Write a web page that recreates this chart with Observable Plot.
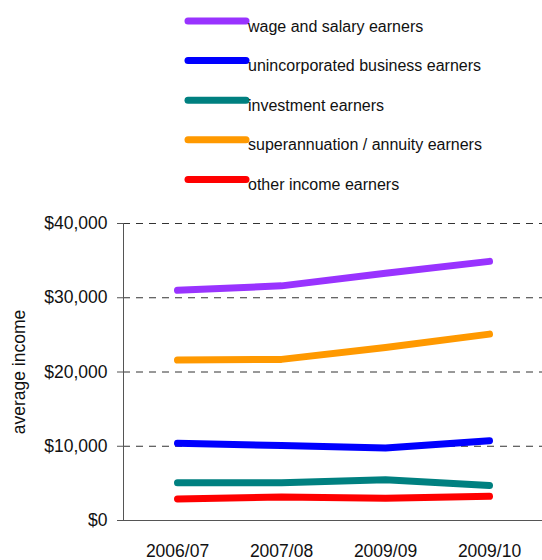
<!DOCTYPE html>
<html><head><meta charset="utf-8">
<script src="https://cdn.jsdelivr.net/npm/d3@7"></script>
<script src="https://cdn.jsdelivr.net/npm/@observablehq/plot@0.6"></script>
<style>
body{margin:0;background:#fff;font-family:"Liberation Sans",Arial,sans-serif;}
#root svg{display:block}
</style>
</head><body><div id="root"></div><script>
const years = ["2006/07", "2007/08", "2009/09", "2009/10"];
const seriesNames = ["wage and salary earners", "unincorporated business earners", "investment earners", "superannuation / annuity earners", "other income earners"];
const colors = ["#9933ff", "#0000ff", "#008080", "#ff9900", "#ff0000"];
const wage = [31000, 31600, 33300, 34900];
const business = [10400, 10100, 9750, 10750];
const investment = [5100, 5100, 5500, 4700];
const superannuation = [21600, 21700, 23300, 25100];
const other = [2900, 3150, 3000, 3250];
const yTicks = [0, 10000, 20000, 30000, 40000];

const seriesValues = [wage, business, investment, superannuation, other];
const data = [];
seriesNames.forEach((name, i) => years.forEach((yr, j) => data.push({series: name, year: yr, value: seriesValues[i][j]})));

const root = document.getElementById("root");

// Legend
const leg = d3.select(root).append("svg").attr("width", 542).attr("height", 200)
  .style("font-family", '"Liberation Sans",Arial,sans-serif');
seriesNames.forEach((name, i) => {
  const y = 21 + i * 39.6;
  leg.append("line").attr("x1", 188).attr("x2", 246).attr("y1", y).attr("y2", y)
    .attr("stroke", colors[i]).attr("stroke-width", 7).attr("stroke-linecap", "round");
  leg.append("text").attr("x", 248).attr("y", y + 10.5).attr("font-size", 16).attr("fill", "#111").text(name);
});

const fmt = d => "$" + d3.format(",")(d);

const chart = Plot.plot({
  width: 542,
  height: 360,
  marginTop: 23,
  marginBottom: 40,
  marginLeft: 123,
  marginRight: 0,
  style: {fontFamily: '"Liberation Sans",Arial,sans-serif', color: "#111", background: "#fff"},
  x: {type: "point", domain: years, padding: 0.5},
  y: {domain: [0, 40000]},
  color: {domain: seriesNames, range: colors},
  marks: [
    Plot.gridY(yTicks, {stroke: "#333", strokeOpacity: 1, strokeDasharray: "7,6"}),
    Plot.frame({anchor: "left", stroke: "#555"}),
    Plot.frame({anchor: "bottom", stroke: "#555"}),
    Plot.axisY(yTicks, {tickFormat: fmt, tickSize: 6, tickPadding: 10, fontSize: 17.5, stroke: "#555",
      label: "average income", labelAnchor: "center", labelArrow: "none", labelOffset: 111}),
    Plot.axisX({tickSize: 0, tickPadding: 24, fontSize: 17.5, label: null}),
    Plot.line(data, {x: "year", y: "value", z: "series", stroke: "series", strokeWidth: 7,
      strokeLinecap: "round", strokeLinejoin: "round"})
  ]
});
root.appendChild(chart);
</script></body></html>
